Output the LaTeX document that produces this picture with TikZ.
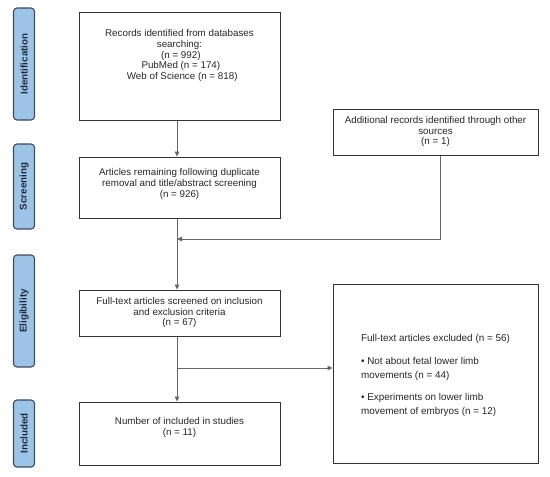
\documentclass[tikz,border=0pt]{standalone}
\usepackage{fontspec}
\setmainfont{Liberation Sans}
\usetikzlibrary{arrows.meta}
\definecolor{tabfill}{HTML}{9DC3E6}
\definecolor{tabdraw}{HTML}{3E4A5A}
\definecolor{tabtext}{HTML}{1F2A40}
\definecolor{boxdraw}{HTML}{333333}
\definecolor{linecol}{HTML}{666666}
\begin{document}
\begin{tikzpicture}[x=1pt,y=-1pt,
  tabbox/.style={draw=tabdraw,line width=1.1pt,fill=tabfill,rounded corners=3.5pt,
    rotate=90,minimum height=21pt,inner sep=0pt,text=tabtext,
    font=\fontsize{9.8}{11}\selectfont\bfseries},
  flowbox/.style={draw=boxdraw,line width=1pt,inner sep=0pt,align=center,
    font=\fontsize{9.8}{10.8}\selectfont,text=black!85},
  conn/.style={draw=linecol,line width=0.8pt},
  arr/.style={conn,-{Triangle[length=5pt,width=4.5pt]}}]
\useasboundingbox (0,0) rectangle (550,477);
% stage tabs
\node[tabbox,minimum width=112pt] (tid) at (24,64) {Identification};
\node[tabbox,minimum width=85pt] (tsc) at (24,186.5) {Screening};
\node[tabbox,minimum width=112pt] (tel) at (24,311) {Eligibility};
\node[tabbox,minimum width=67pt] (tin) at (24,433.5) {Included};
% boxes
\node[flowbox,minimum width=201pt,minimum height=108pt] (b1) at (179.5,66)
  {\begin{tabular}{@{}c@{}}Records identified from databases\\ searching:\\ \ (n = 992)\\ \ PubMed (n = 174)\\ \ \ Web of Science (n = 818)\\[20pt]\end{tabular}};
\node[flowbox,minimum width=201pt,minimum height=61pt] (b2) at (179.5,187.5)
  {\begin{tabular}{@{}c@{}}Articles remaining following duplicate\\ removal and title/abstract screening\\ (n = 926)\\[6pt]\end{tabular}};
\node[flowbox,minimum width=205pt,minimum height=46pt] (add) at (435.5,132)
  {\begin{tabular}{@{}c@{}}Additional records identified through other\\ sources\\ (n = 1)\end{tabular}};
\node[flowbox,minimum width=201pt,minimum height=46pt] (b3) at (179.5,313)
  {\begin{tabular}{@{}c@{}}Full-text articles screened on inclusion\\ and exclusion criteria\\ (n = 67)\end{tabular}};
\node[flowbox,minimum width=201pt,minimum height=63pt] (b4) at (179.5,433.5)
  {\begin{tabular}{@{}c@{}}Number of included in studies\\ (n = 11)\\[11pt]\end{tabular}};
\node[flowbox,minimum width=205pt,minimum height=179pt,
  font=\fontsize{9.9}{13.3}\selectfont] (ex) at (435.5,373.5)
  {\begin{tabular}{@{}l@{}}\rule{0pt}{13pt}Full-text articles excluded (n = 56)\\[9.5pt]
  • Not about fetal lower limb\\ movements (n = 44)\\[9.5pt]
  • Experiments on lower limb\\ movement of embryos (n = 12)\end{tabular}};
% connectors
\coordinate (m1) at (177,239);
\coordinate (m2) at (177,368);
\draw[arr] ([xshift=-2.5pt]b1.south) -- ([xshift=-2.5pt]b2.north);
\draw[arr] ([xshift=4.5pt]add.south) |- (m1);
\draw[arr] ([xshift=-2.5pt]b2.south) -- ([xshift=-2.5pt]b3.north);
\draw[arr] ([xshift=-2.5pt]b3.south) -- ([xshift=-2.5pt]b4.north);
\draw[arr] (m2) -- (m2 -| ex.west);
\end{tikzpicture}
\end{document}
